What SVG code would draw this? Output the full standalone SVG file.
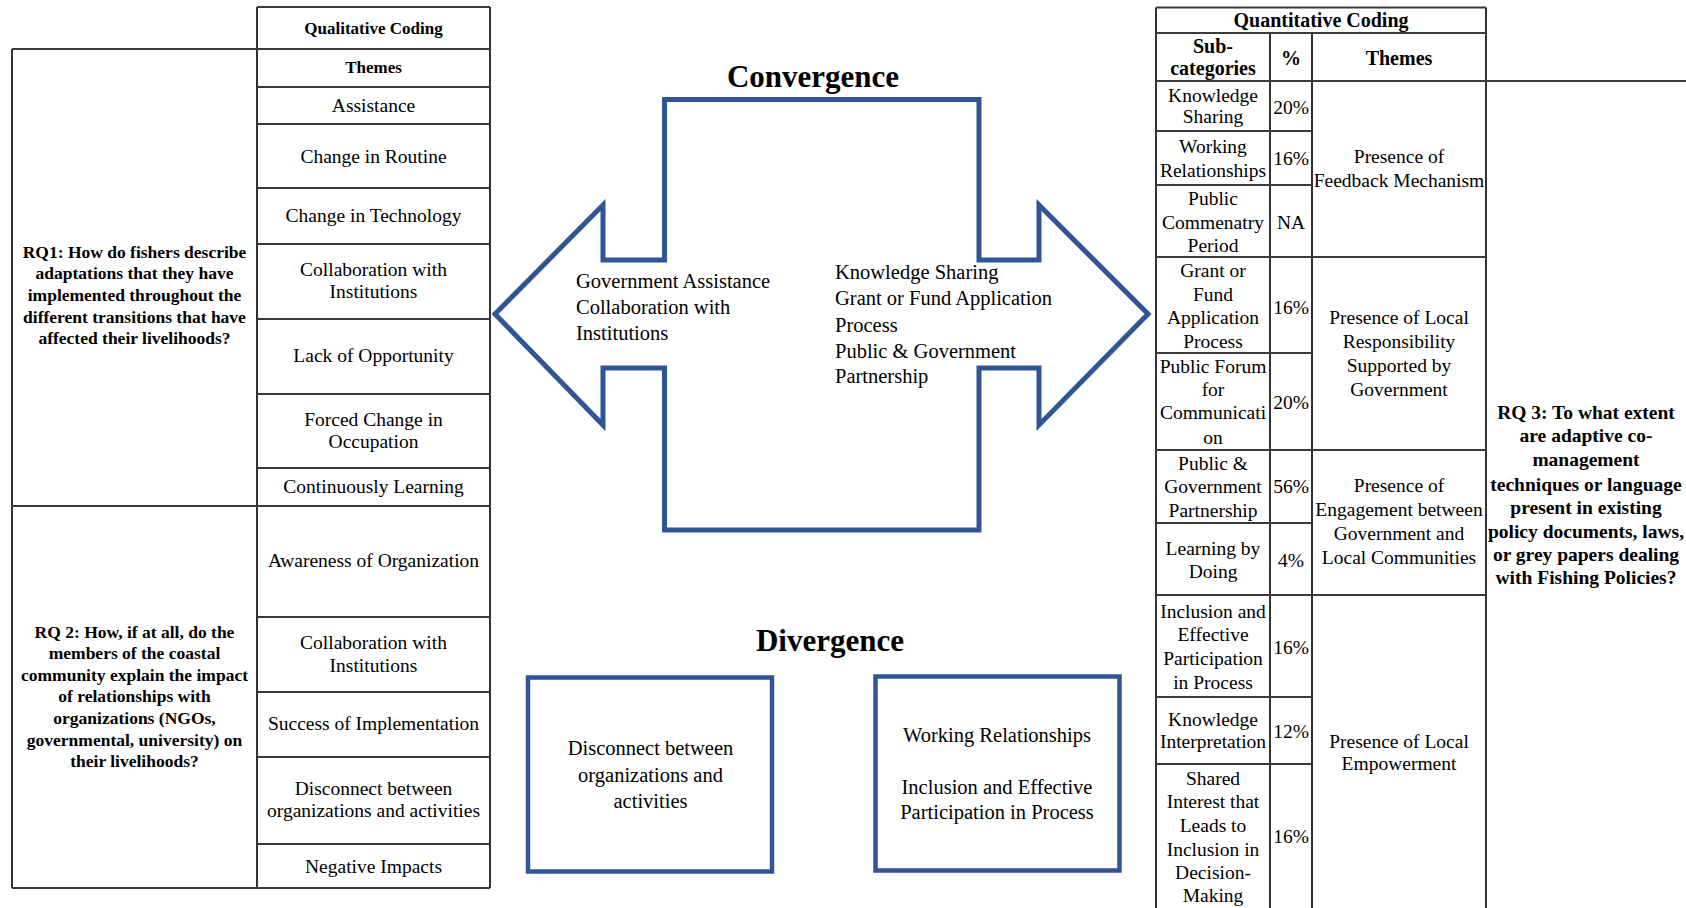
<svg xmlns="http://www.w3.org/2000/svg" width="1686" height="908" viewBox="0 0 1686 908">
  <style>
    text { font-family: "Liberation Serif", "Times New Roman", serif; fill: #000; }
    .cell { font-size: 19.5px; text-anchor: middle; }
    .hdr { font-size: 17px; font-weight: bold; text-anchor: middle; }
    .hdr2 { font-size: 20px; font-weight: bold; text-anchor: middle; }
    .rq { font-size: 17.5px; font-weight: bold; text-anchor: middle; }
    .rq3 { font-size: 19.5px; font-weight: bold; text-anchor: middle; }
    .title { font-size: 31px; font-weight: bold; text-anchor: middle; }
    .body { font-size: 20.5px; }
    .bodyc { font-size: 20.5px; text-anchor: middle; }
    .vl { stroke: #000; stroke-width: 1.6; fill: none; }
    .hl { stroke: #3a3a3a; stroke-width: 1.8; fill: none; }
    .blue { stroke: #2F5597; fill: none; }
  </style>

  <rect width="1686" height="908" fill="#fff"/>

  <!-- Qualitative coding table -->
  <g id="qualitative-table">
    <g id="qual-grid">
      <path class="vl" d="M12 49V888M257 7V888M490 7V888"/>
      <path class="hl" d="M257 7H490M12 49H490M257 87H490M257 124H490M257 188H490M257 244H490M257 319H490M257 394H490M257 468H490M12 506H490M257 617H490M257 692H490M257 757H490M257 844H490M12 888H490"/>
    </g>
    <text class="hdr" x="373.5" y="33.5">Qualitative Coding</text>
    <text class="hdr" x="373.5" y="72.5">Themes</text>
    <g id="rq1">
      <text class="rq" x="134.5" y="257.5">RQ1: How do fishers describe</text>
      <text class="rq" x="134.5" y="278.5">adaptations that they have</text>
      <text class="rq" x="134.5" y="300.5">implemented throughout the</text>
      <text class="rq" x="134.5" y="322.5">different transitions that have</text>
      <text class="rq" x="134.5" y="343.5">affected their livelihoods?</text>
    </g>
    <g id="rq2">
      <text class="rq" x="134.5" y="637.5">RQ 2: How, if at all, do the</text>
      <text class="rq" x="134.5" y="658.5">members of the coastal</text>
      <text class="rq" x="134.5" y="680.5">community explain the impact</text>
      <text class="rq" x="134.5" y="701.5">of relationships with</text>
      <text class="rq" x="134.5" y="723.5">organizations (NGOs,</text>
      <text class="rq" x="134.5" y="745.5">governmental, university) on</text>
      <text class="rq" x="134.5" y="766.5">their livelihoods?</text>
    </g>
    <g id="qual-themes">
      <text class="cell" x="373.5" y="112">Assistance</text>
      <text class="cell" x="373.5" y="163">Change in Routine</text>
      <text class="cell" x="373.5" y="222">Change in Technology</text>
      <text class="cell" x="373.5" y="276">Collaboration with</text>
      <text class="cell" x="373.5" y="298">Institutions</text>
      <text class="cell" x="373.5" y="362">Lack of Opportunity</text>
      <text class="cell" x="373.5" y="426">Forced Change in</text>
      <text class="cell" x="373.5" y="448">Occupation</text>
      <text class="cell" x="373.5" y="493">Continuously Learning</text>
      <text class="cell" x="373.5" y="567">Awareness of Organization</text>
      <text class="cell" x="373.5" y="649">Collaboration with</text>
      <text class="cell" x="373.5" y="672">Institutions</text>
      <text class="cell" x="373.5" y="730">Success of Implementation</text>
      <text class="cell" x="373.5" y="795">Disconnect between</text>
      <text class="cell" x="373.5" y="817">organizations and activities</text>
      <text class="cell" x="373.5" y="873">Negative Impacts</text>
    </g>
  </g>

  <!-- Convergence: double-headed block arrow -->
  <g id="convergence">
    <text class="title" x="813" y="86.5">Convergence</text>
    <polygon class="blue" stroke-width="5" points="664.5,99.5 979,99.5 979,260 1039,260 1039,205 1148,314 1039,425 1039,368 979,368 979,530 664.5,530 664.5,368 603,368 603,425 495,314 603,205 603,260 664.5,260"/>
    <g id="convergence-left">
      <text class="body" x="576" y="287.5">Government Assistance</text>
      <text class="body" x="576" y="313.5">Collaboration with</text>
      <text class="body" x="576" y="339.5">Institutions</text>
    </g>
    <g id="convergence-right">
      <text class="body" x="835" y="278.5">Knowledge Sharing</text>
      <text class="body" x="835" y="305">Grant or Fund Application</text>
      <text class="body" x="835" y="331.5">Process</text>
      <text class="body" x="835" y="357.5">Public &amp; Government</text>
      <text class="body" x="835" y="383">Partnership</text>
    </g>
  </g>

  <!-- Divergence -->
  <g id="divergence">
    <text class="title" x="830" y="650.5">Divergence</text>
    <g id="divergence-left">
      <rect class="blue" stroke-width="4.5" x="528" y="677.5" width="244" height="194"/>
      <text class="bodyc" x="650.5" y="754.5">Disconnect between</text>
      <text class="bodyc" x="650.5" y="781.5">organizations and</text>
      <text class="bodyc" x="650.5" y="807.5">activities</text>
    </g>
    <g id="divergence-right">
      <rect class="blue" stroke-width="4.5" x="875.5" y="676.5" width="244" height="194"/>
      <text class="bodyc" x="997" y="741.5">Working Relationships</text>
      <text class="bodyc" x="997" y="793.5">Inclusion and Effective</text>
      <text class="bodyc" x="997" y="818.5">Participation in Process</text>
    </g>
  </g>

  <!-- Quantitative coding table -->
  <g id="quantitative-table">
    <g id="quant-grid">
      <path class="vl" d="M1156 7.5V908M1486 7.5V908M1270 33V908M1312 33V908"/>
      <path class="hl" d="M1156 7.5H1486M1156 33H1486M1156 81H1686M1156 131H1312M1156 185H1312M1156 257H1486M1156 353H1312M1156 450H1486M1156 523H1312M1156 595H1486M1156 697H1312M1156 764H1312"/>
    </g>
    <text class="hdr2" x="1321" y="27">Quantitative Coding</text>
    <text class="hdr2" x="1213" y="53">Sub-</text>
    <text class="hdr2" x="1213" y="75">categories</text>
    <text class="hdr2" x="1291" y="64.5">%</text>
    <text class="hdr2" x="1399" y="64.5">Themes</text>

    <g id="theme-feedback">
      <text class="cell" x="1213" y="102">Knowledge</text>
      <text class="cell" x="1213" y="123">Sharing</text>
      <text class="cell" x="1291" y="114">20%</text>
      <text class="cell" x="1213" y="153">Working</text>
      <text class="cell" x="1213" y="176.5">Relationships</text>
      <text class="cell" x="1291" y="165">16%</text>
      <text class="cell" x="1213" y="205">Public</text>
      <text class="cell" x="1213" y="229">Commenatry</text>
      <text class="cell" x="1213" y="252">Period</text>
      <text class="cell" x="1291" y="229">NA</text>
      <text class="cell" x="1399" y="163">Presence of</text>
      <text class="cell" x="1399" y="187">Feedback Mechanism</text>
    </g>

    <g id="theme-responsibility">
      <text class="cell" x="1213" y="277">Grant or</text>
      <text class="cell" x="1213" y="300.5">Fund</text>
      <text class="cell" x="1213" y="324">Application</text>
      <text class="cell" x="1213" y="347.5">Process</text>
      <text class="cell" x="1291" y="314">16%</text>
      <text class="cell" x="1213" y="373">Public Forum</text>
      <text class="cell" x="1213" y="396">for</text>
      <text class="cell" x="1213" y="419">Communicati</text>
      <text class="cell" x="1213" y="443.5">on</text>
      <text class="cell" x="1291" y="409">20%</text>
      <text class="cell" x="1399" y="324">Presence of Local</text>
      <text class="cell" x="1399" y="348">Responsibility</text>
      <text class="cell" x="1399" y="372">Supported by</text>
      <text class="cell" x="1399" y="396">Government</text>
    </g>

    <g id="theme-engagement">
      <text class="cell" x="1213" y="470">Public &amp;</text>
      <text class="cell" x="1213" y="493">Government</text>
      <text class="cell" x="1213" y="517">Partnership</text>
      <text class="cell" x="1291" y="493">56%</text>
      <text class="cell" x="1213" y="555">Learning by</text>
      <text class="cell" x="1213" y="578">Doing</text>
      <text class="cell" x="1291" y="567">4%</text>
      <text class="cell" x="1399" y="492">Presence of</text>
      <text class="cell" x="1399" y="516">Engagement between</text>
      <text class="cell" x="1399" y="540">Government and</text>
      <text class="cell" x="1399" y="564">Local Communities</text>
    </g>

    <g id="theme-empowerment">
      <text class="cell" x="1213" y="618">Inclusion and</text>
      <text class="cell" x="1213" y="641">Effective</text>
      <text class="cell" x="1213" y="665">Participation</text>
      <text class="cell" x="1213" y="689">in Process</text>
      <text class="cell" x="1291" y="654">16%</text>
      <text class="cell" x="1213" y="726">Knowledge</text>
      <text class="cell" x="1213" y="748">Interpretation</text>
      <text class="cell" x="1291" y="738">12%</text>
      <text class="cell" x="1213" y="785">Shared</text>
      <text class="cell" x="1213" y="808">Interest that</text>
      <text class="cell" x="1213" y="832">Leads to</text>
      <text class="cell" x="1213" y="856">Inclusion in</text>
      <text class="cell" x="1213" y="879">Decision-</text>
      <text class="cell" x="1213" y="902">Making</text>
      <text class="cell" x="1291" y="843">16%</text>
      <text class="cell" x="1399" y="748">Presence of Local</text>
      <text class="cell" x="1399" y="770">Empowerment</text>
    </g>

    <g id="rq3">
      <text class="rq3" x="1586" y="419">RQ 3: To what extent</text>
      <text class="rq3" x="1586" y="442">are adaptive co-</text>
      <text class="rq3" x="1586" y="466">management</text>
      <text class="rq3" x="1586" y="491">techniques or language</text>
      <text class="rq3" x="1586" y="514">present in existing</text>
      <text class="rq3" x="1586" y="538">policy documents, laws,</text>
      <text class="rq3" x="1586" y="561">or grey papers dealing</text>
      <text class="rq3" x="1586" y="584">with Fishing Policies?</text>
    </g>
  </g>

  <g id="connectors"/>
</svg>
